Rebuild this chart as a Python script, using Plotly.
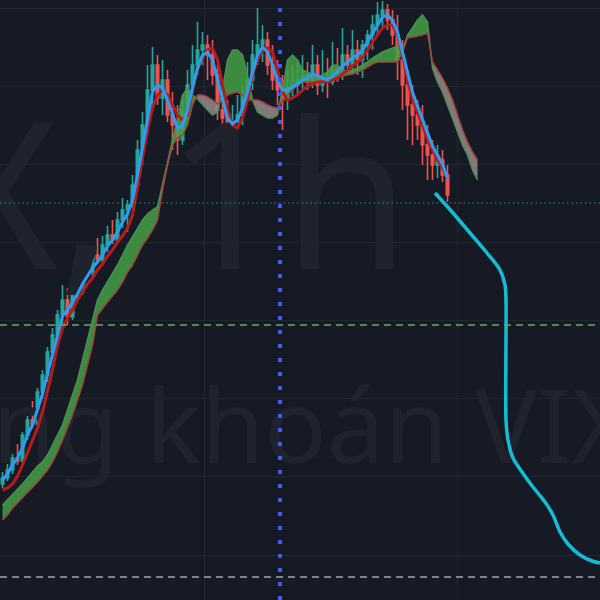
import plotly.graph_objects as go

# ---- data (price in thousand VND-like units, x = bar index) ----
bars = list(range(90))
opens = [11.6,12.2,13.0,14.2,13.9,16.5,18.0,17.6,20.8,22.5,
         24.8,26.5,28.5,30.0,28.3,31.2,30.8,33.2,32.8,34.5,
         34.0,35.5,36.5,36.0,38.0,39.0,39.5,41.5,45.0,47.5,
         51.0,53.5,50.2,52.0,48.5,47.5,46.0,49.0,51.5,53.5,
         55.0,55.5,54.5,52.5,49.0,48.2,47.0,47.8,48.5,50.5,
         52.0,54.5,55.5,56.0,53.5,52.0,51.0,50.0,51.2,51.5,
         52.0,52.5,51.8,53.5,51.5,52.2,51.8,53.0,52.5,54.5,
         53.5,55.0,54.0,55.5,56.5,57.5,58.5,59.0,58.0,56.5,
         54.0,51.5,49.5,48.5,47.5,45.5,44.5,43.5,44.0,42.5]
highs = [12.8,13.6,14.6,15.6,16.8,18.4,19.9,21.2,23.0,25.3,
         27.2,29.0,31.5,31.2,31.6,32.6,34.0,35.0,35.2,36.2,
         36.4,37.4,38.0,38.8,40.2,40.0,42.5,46.0,48.8,53.5,
         55.3,54.5,54.0,53.0,50.8,49.5,50.5,53.0,55.5,57.8,
         56.8,56.5,56.0,53.5,51.5,50.0,49.5,50.5,51.5,53.8,
         56.0,59.2,57.5,56.8,55.5,54.0,52.5,53.0,53.5,54.0,
         54.5,53.8,55.5,54.5,55.0,54.2,55.8,55.2,57.2,55.5,
         57.0,56.0,56.0,57.0,58.5,59.8,59.9,59.6,59.0,58.5,
         56.0,53.0,51.5,50.0,49.5,47.5,46.0,45.5,45.0,43.5]
lows = [11.2,11.9,12.6,13.5,13.7,16.0,17.2,17.4,20.1,21.8,
        24.2,25.8,27.2,27.5,28.0,30.2,30.5,32.3,32.4,33.6,
        33.8,34.8,35.6,35.8,37.2,36.8,39.2,41.0,43.5,46.5,
        49.0,49.5,48.5,47.8,45.0,44.5,45.5,48.0,50.8,52.5,
        53.5,52.0,51.5,48.0,46.0,42.8,45.5,46.8,47.5,49.8,
        51.0,53.5,53.8,52.5,51.0,49.5,47.0,49.0,50.2,50.5,
        50.8,51.0,51.2,50.5,50.8,50.2,51.5,51.8,52.0,52.8,
        52.7,52.5,52.2,54.0,55.0,56.5,57.2,57.0,55.5,52.0,
        49.0,46.0,45.5,46.0,43.5,42.0,42.0,42.2,41.8,39.8]
closes = [12.2,13.0,14.2,13.9,16.5,18.0,17.6,20.8,22.5,24.8,
          26.5,28.5,30.0,28.3,31.2,30.8,33.2,32.8,34.5,34.0,
          35.5,36.5,36.0,38.0,39.0,39.5,41.5,45.0,47.5,51.0,
          53.5,50.2,52.0,48.5,47.5,46.0,49.0,51.5,53.5,55.0,
          55.5,54.5,52.5,49.0,48.2,47.0,47.8,48.5,50.5,52.0,
          54.5,55.5,56.0,53.5,52.0,51.0,50.0,51.2,51.5,52.0,
          52.5,51.8,53.5,51.5,52.2,51.8,53.0,52.5,54.5,53.5,
          55.0,54.0,55.5,56.5,57.5,58.5,59.0,58.0,56.5,54.0,
          51.5,49.5,48.5,47.5,45.5,44.5,43.5,44.0,42.5,40.5]

ma_fast = [12.0,12.6,13.5,14.2,15.2,16.5,17.5,19.0,20.6,22.6,
           24.6,26.6,28.4,29.0,29.8,30.6,31.6,32.4,33.2,33.8,
           34.5,35.4,36.0,36.8,37.8,38.6,40.0,42.5,45.2,48.0,
           50.8,51.5,51.2,50.0,48.6,47.2,47.4,49.0,51.2,53.2,
           54.5,54.8,54.0,52.0,50.0,48.2,47.6,48.0,49.2,50.8,
           52.8,54.5,55.3,54.8,53.5,52.0,51.0,51.0,51.3,51.6,
           52.0,52.2,52.6,52.4,52.2,52.0,52.4,52.8,53.4,53.8,
           54.2,54.5,55.0,55.8,56.6,57.5,58.3,58.5,58.0,56.8,
           54.8,52.6,50.8,49.4,48.0,46.6,45.4,44.5,43.6,42.2]
ma_slow = [11.0,11.2,11.6,12.4,13.5,14.8,16.0,17.2,18.8,20.8,
           23.0,25.5,27.2,28.2,29.0,30.0,30.8,31.6,32.2,33.0,
           33.6,34.4,35.0,35.8,36.4,37.2,38.5,41.5,44.2,47.0,
           49.2,50.5,51.0,50.5,49.5,48.5,48.0,48.5,51.0,53.0,
           54.2,55.0,55.2,54.0,51.5,49.0,47.5,47.2,48.2,50.0,
           52.5,54.0,55.0,55.2,54.8,53.0,50.8,50.0,50.2,50.5,
           51.0,51.4,51.6,51.8,51.8,51.8,52.0,52.2,52.6,53.0,
           53.4,53.8,54.2,55.0,55.8,56.5,57.2,57.5,57.5,56.5,
           54.5,52.0,50.0,48.8,47.5,46.0,45.0,44.0,43.2,42.2]

cloud_x = list(range(96))
span_a = [9.5,10.0,10.5,11.0,11.6,12.2,12.8,13.4,13.8,14.5,
          15.5,16.5,17.5,19.0,20.5,22.0,24.0,26.0,28.0,30.0,
          31.0,31.8,32.6,33.5,34.5,35.5,36.3,37.2,38.0,38.6,
          39.0,39.3,41.5,44.0,46.0,48.0,50.5,51.2,50.5,50.1,
          49.5,49.0,48.5,48.8,51.0,54.0,55.0,55.0,54.5,52.5,
          50.0,48.8,48.5,48.2,48.2,48.5,51.0,54.0,54.5,54.0,
          53.0,52.8,52.5,52.2,52.5,52.8,53.5,53.5,53.0,52.8,
          53.0,53.2,53.5,53.8,54.2,54.5,54.8,55.0,55.2,55.4,
          55.0,56.5,57.2,58.0,58.5,57.8,53.2,51.8,50.8,49.5,
          48.2,47.0,45.5,44.5,43.0,42.0]
span_b = [8.0,8.5,9.2,9.7,10.2,10.8,11.2,11.8,12.4,13.0,
          13.8,14.8,16.0,17.2,18.5,20.0,21.5,23.5,25.5,28.5,
          29.2,29.8,30.4,31.0,31.8,32.8,33.5,34.5,35.5,36.2,
          37.0,38.0,41.0,43.5,45.5,46.2,46.5,47.5,49.5,50.5,
          50.5,50.3,50.0,49.6,50.0,50.5,50.7,50.8,50.5,50.0,
          50.0,50.0,49.8,49.5,49.3,49.2,50.0,50.5,51.0,51.5,
          51.8,51.8,51.8,51.8,52.0,52.0,52.0,52.2,52.4,52.5,
          52.6,52.8,53.0,53.3,53.6,53.8,53.8,53.8,53.8,53.8,
          54.8,56.2,56.3,56.4,56.5,56.7,53.8,53.0,52.2,51.2,
          50.0,48.5,47.0,45.8,44.8,44.0]

proj_x = [86.5,90.1,93.5,96.9,99.5,100.5,100.7,100.7,101.1,102.1,
          103.9,106.1,108.5,110.1,111.5,113.1,115.5,117.9,119.5]
proj_y = [40.7,38.7,36.7,34.7,33.0,31.5,30.0,18.0,16.0,14.2,
          12.8,11.3,9.8,8.5,6.8,5.6,4.5,3.9,3.7]

level_teal = 39.7
level_green = 27.5
level_grey = 2.3
marker_bar = 55.5
vgrid = [40.3, 91.0]

BG = "#161a25"
fig = go.Figure()

# watermark (drawn first so it sits under everything)
fig.add_trace(go.Scatter(x=[81.5], y=[38.2], mode="text", text=["VIX, 1h"],
                         textposition="middle left",
                         textfont=dict(size=205, color="#1f232e", family="Noto Sans"),
                         hoverinfo="skip", showlegend=False, cliponaxis=True))
fig.add_trace(go.Scatter(x=[125.9], y=[16.3], mode="text", text=["CTCP Chứng khoán VIX"],
                         textposition="middle left",
                         textfont=dict(size=103, color="#1f232e", family="Noto Sans"),
                         hoverinfo="skip", showlegend=False, cliponaxis=True))

# cloud: group consecutive intervals with the same sign into polygons
def cloud_polys(green):
    xs, ys = [], []
    i = 0
    n = len(cloud_x)
    while i < n - 1:
        g = (span_a[i] + span_a[i + 1]) >= (span_b[i] + span_b[i + 1])
        if g != green:
            i += 1
            continue
        j = i
        while j < n - 1 and ((span_a[j] + span_a[j + 1]) >= (span_b[j] + span_b[j + 1])) == green:
            j += 1
        seg = range(i, j + 1)
        px = [cloud_x[k] for k in seg] + [cloud_x[k] for k in reversed(seg)]
        py = [span_a[k] for k in seg] + [span_b[k] for k in reversed(seg)]
        xs += px + [px[0], None]
        ys += py + [py[0], None]
        i = j
    return xs, ys

gx, gy = cloud_polys(True)
rx, ry = cloud_polys(False)
fig.add_trace(go.Scatter(x=gx, y=gy, fill="toself", fillcolor="rgba(67,160,71,0.85)",
                         line=dict(width=0), mode="lines", hoverinfo="skip", showlegend=False))
fig.add_trace(go.Scatter(x=rx, y=ry, fill="toself", fillcolor="rgba(150,138,138,0.85)",
                         line=dict(width=0), mode="lines", hoverinfo="skip", showlegend=False))
fig.add_trace(go.Scatter(x=cloud_x, y=span_a, mode="lines", line=dict(color="#4c8f4f", width=1.5),
                         hoverinfo="skip", showlegend=False))
fig.add_trace(go.Scatter(x=cloud_x, y=span_b, mode="lines", line=dict(color="#a3443b", width=1.5),
                         hoverinfo="skip", showlegend=False))

# candles
fig.add_trace(go.Candlestick(x=bars, open=opens, high=highs, low=lows, close=closes,
                             increasing=dict(line=dict(color="#26a69a", width=1.6), fillcolor="#26a69a"),
                             decreasing=dict(line=dict(color="#ef5350", width=1.6), fillcolor="#ef5350"),
                             whiskerwidth=0, showlegend=False, hoverinfo="skip"))

# moving averages
fig.add_trace(go.Scatter(x=bars, y=ma_slow, mode="lines", line=dict(color="#b71c1c", width=3),
                         hoverinfo="skip", showlegend=False))
fig.add_trace(go.Scatter(x=bars, y=ma_fast, mode="lines", line=dict(color="#2a9df4", width=3),
                         hoverinfo="skip", showlegend=False))

# projection
fig.add_trace(go.Scatter(x=proj_x, y=proj_y, mode="lines",
                         line=dict(color="#14bdd6", width=3.5, shape="spline", smoothing=0.8),
                         hoverinfo="skip", showlegend=False))

# reference lines
fig.add_shape(type="line", xref="paper", x0=0, x1=1, yref="y", y0=level_teal, y1=level_teal,
              line=dict(color="#2b8f89", width=1.2, dash="1.5px,3px"), layer="above")
fig.add_shape(type="line", xref="paper", x0=0, x1=1, yref="y", y0=level_green, y1=level_green,
              line=dict(color="#6fa271", width=1.5, dash="7px,5px"), layer="above")
fig.add_shape(type="line", xref="paper", x0=0, x1=1, yref="y", y0=level_grey, y1=level_grey,
              line=dict(color="#a3a6ae", width=1.5, dash="7px,5px"), layer="above")
fig.add_shape(type="line", yref="paper", y0=0, y1=1, xref="x", x0=marker_bar, x1=marker_bar,
              line=dict(color="#3d5cff", width=4, dash="4px,10px"), layer="above")

fig.update_layout(
    width=600, height=600,
    margin=dict(l=0, r=0, t=0, b=0),
    paper_bgcolor=BG, plot_bgcolor=BG,
    showlegend=False,
    xaxis=dict(range=[-0.5, 119.5], showticklabels=False, zeroline=False,
               tickvals=vgrid, showgrid=True, gridcolor="#222632", gridwidth=1,
               rangeslider=dict(visible=False), fixedrange=True),
    yaxis=dict(range=[0, 60], showticklabels=False, zeroline=False,
               tick0=4.5, dtick=7.81, showgrid=True, gridcolor="#222632", gridwidth=1,
               fixedrange=True),
)

fig.write_html("out.html", config={"displayModeBar": False},
               post_script="document.body.style.margin='0';document.body.style.background='#161a25';")
